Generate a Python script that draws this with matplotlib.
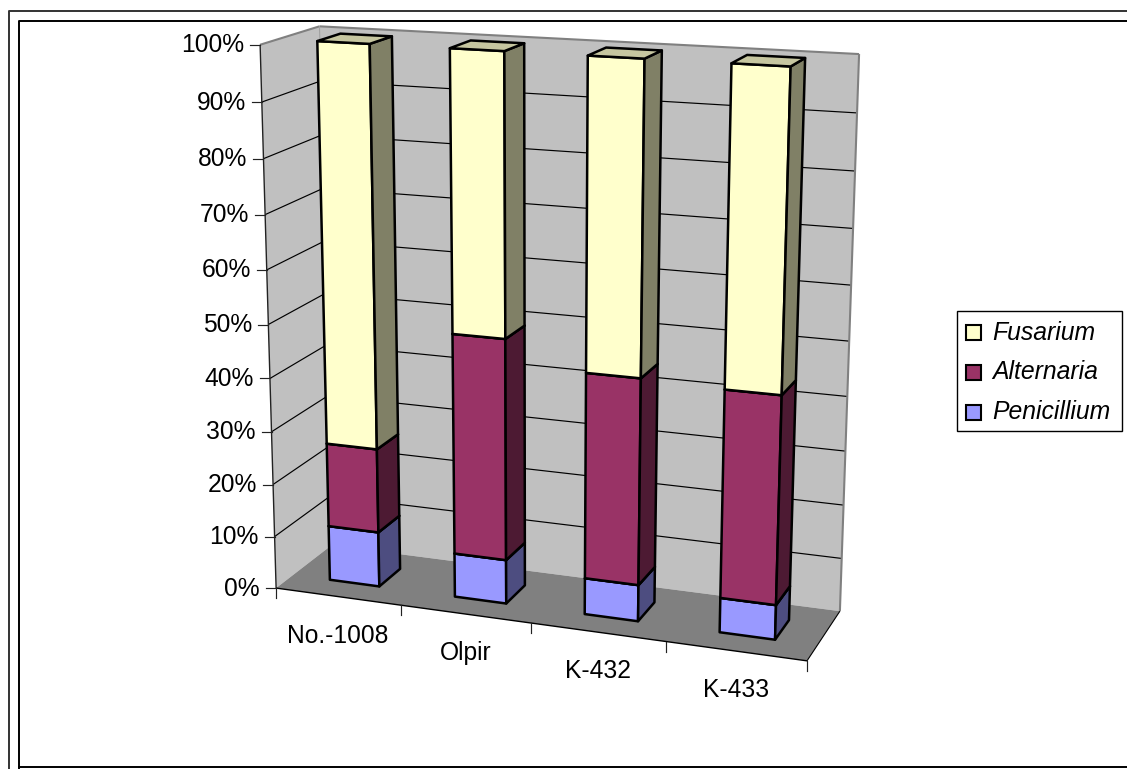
#!/usr/bin/env python3
"""
Stacked 100% column chart of fungal genera per variety, drawn in Excel-style 3D
"""

import numpy as np
import matplotlib
matplotlib.use('Agg')
import matplotlib.pyplot as plt
from matplotlib.patches import Polygon, Rectangle

plt.rcParams['font.family'] = ['Liberation Sans', 'DejaVu Sans']

# chart data, share of isolates in percent
varieties = ['No.-1008', 'Olpir', 'K-432', 'K-433']
penicillium = [10.5, 8.3, 6.8, 6.4]
alternaria = [15.9, 41.1, 37.9, 37.8]
fusarium = [73.6, 50.6, 55.3, 55.8]
series_names = ['Penicillium', 'Alternaria', 'Fusarium']
value_ticks = [0, 10, 20, 30, 40, 50, 60, 70, 80, 90, 100]

# front, side and top shades per series
shades = {
    'Fusarium': ('#FFFFCC', '#808066', '#C6C6A0'),
    'Alternaria': ('#993366', '#4D1A33', '#7A2952'),
    'Penicillium': ('#9999FF', '#4D4D80', '#7A7ACC'),
}

# camera calibration: (category, value fraction, depth) -> pixel
calib_world = np.array([
    (0, 0, 0), (4, 0, 0), (4, 0, 1), (0, 0, 1), (0, 1, 0), (0, 1, 1), (4, 1, 1),
    (1, 0, 0), (2, 0, 0), (3, 0, 0), (0.3, 1, 0.3), (3.7, 1, 0.3), (3.3, 1, 0.3),
    (0.3, 0, 0.3), (3.7, 0, 0.3), (3.3, 0, 0.3),
], dtype=float)
calib_px = np.array([
    (277, 588), (807, 661), (841, 610), (329, 546), (259, 44), (321, 27), (859, 54),
    (402, 605), (532, 623), (665, 643), (317, 41), (791, 67), (731, 63),
    (331, 579), (775, 639), (719, 633),
], dtype=float)


def fit_camera(world, px):
    """Direct linear transform for a 3x4 projection matrix"""
    rows = []
    for (x, y, z), (u, v) in zip(world, px):
        rows.append([x, y, z, 1, 0, 0, 0, 0, -u*x, -u*y, -u*z, -u])
        rows.append([0, 0, 0, 0, x, y, z, 1, -v*x, -v*y, -v*z, -v])
    _, _, vt = np.linalg.svd(np.array(rows))
    return vt[-1].reshape(3, 4)


CAM = fit_camera(calib_world, calib_px)


def project(cat, frac, depth):
    p = CAM @ np.array([cat, frac, depth, 1.0])
    return p[0] / p[2], p[1] / p[2]


def face(ax, corners, color, edge='black', lw=1.8, z=2):
    pts = [project(*c) for c in corners]
    ax.add_patch(Polygon(pts, closed=True, facecolor=color, edgecolor=edge,
                         linewidth=lw, joinstyle='round', zorder=z))


def line3d(ax, a, b, color='black', lw=0.8, z=2):
    pa, pb = project(*a), project(*b)
    ax.plot([pa[0], pb[0]], [pa[1], pb[1]], color=color, lw=lw, zorder=z,
            solid_capstyle='butt')


def draw_box(ax, i, low, high, name, z):
    x0, x1 = i + 0.3, i + 0.7
    d0, d1 = 0.3, 0.7
    front, side, top = shades[name]
    face(ax, [(x0, low, d0), (x1, low, d0), (x1, high, d0), (x0, high, d0)], front, z=z)
    face(ax, [(x1, low, d0), (x1, low, d1), (x1, high, d1), (x1, high, d0)], side, z=z)
    face(ax, [(x0, high, d0), (x1, high, d0), (x1, high, d1), (x0, high, d1)], top, z=z)


fig = plt.figure(figsize=(11.27, 7.69), dpi=100)
ax = fig.add_axes([0, 0, 1, 1])
ax.set_xlim(0, 1127)
ax.set_ylim(769, 0)
ax.axis('off')

# the two chart frames
ax.plot([8.5, 8.5, 1127], [769, 10.5, 10.5], color='#333333', lw=1.4, zorder=1)
ax.plot([18.5, 18.5, 1127], [769, 20.5, 20.5], color='black', lw=1.4, zorder=1)
ax.plot([18.5, 1127], [767, 767], color='black', lw=1.4, zorder=1)

# walls and floor
n = len(varieties)
face(ax, [(0, 0, 0), (0, 0, 1), (0, 1, 1), (0, 1, 0)], '#C0C0C0', edge='none', lw=0, z=1)
face(ax, [(0, 0, 1), (n, 0, 1), (n, 1, 1), (0, 1, 1)], '#C0C0C0', edge='none', lw=0, z=1)

for t in value_ticks[1:-1]:
    f = t / 100
    line3d(ax, (0, f, 0), (0, f, 1), lw=0.85)
    line3d(ax, (0, f, 1), (n, f, 1), lw=0.85)

face(ax, [(0, 0, 0), (n, 0, 0), (n, 0, 1), (0, 0, 1)], '#808080', edge='none', lw=0, z=1.5)

# wall outline
line3d(ax, (0, 1, 0), (0, 1, 1), color='#808080', lw=1.5)
line3d(ax, (0, 1, 1), (n, 1, 1), color='#808080', lw=1.5)
line3d(ax, (n, 1, 1), (n, 0, 1), color='#808080', lw=1.5)
line3d(ax, (0, 0, 1), (0, 1, 1), color='#A0A0A0', lw=0.8)
line3d(ax, (0, 0, 0), (0, 1, 0), color='#222222', lw=1.0)
line3d(ax, (0, 0, 0), (n, 0, 0), color='black', lw=1.0)
line3d(ax, (n, 0, 0), (n, 0, 1), color='black', lw=0.8)

# value axis ticks and labels
for t in value_ticks:
    px, py = project(0, t / 100, 0)
    ax.plot([px - 10, px], [py, py], color='#222222', lw=0.85, zorder=2)
    ax.text(px - 16, py + 0.5, f'{t}%', ha='right', va='center', fontsize=17.7,
            color='black')

# category axis ticks and labels
for i in range(n + 1):
    px, py = project(i, 0, 0)
    ax.plot([px, px], [py, py + 10], color='#222222', lw=0.85, zorder=2)
for i, name in enumerate(varieties):
    px, py = project(i + 0.5, 0, 0)
    ax.text(px, py + 39, name, ha='center', va='center', fontsize=17.7, color='black')

# stacked columns, left to right and bottom to top
z = 3
for i in range(n):
    low = 0.0
    for name, values in zip(series_names, [penicillium, alternaria, fusarium]):
        high = low + values[i] / 100
        draw_box(ax, i, low, high, name, z)
        low = high
        z += 1

# legend
ax.add_patch(Rectangle((957, 311), 165, 120, facecolor='white', edgecolor='black',
                       linewidth=1.0, zorder=20))
for y, name in zip([332.5, 372, 412], series_names[::-1]):
    ax.add_patch(Rectangle((966, y - 7.5), 15, 15, facecolor=shades[name][0],
                           edgecolor='black', linewidth=1.5, zorder=21))
    ax.text(992, y, name, ha='left', va='center', fontsize=17.8, style='italic',
            color='black', zorder=21)

fig.savefig('out.png', dpi=100)
